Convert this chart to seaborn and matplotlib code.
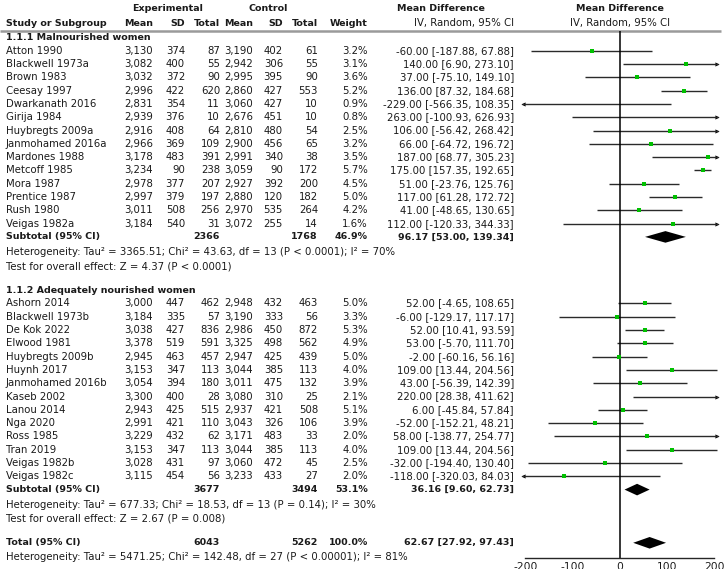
import matplotlib
matplotlib.use("Agg")
import numpy as np
import matplotlib.pyplot as plt
import seaborn as sns

# 1.1.1 Malnourished women
g1_name = ['Atton 1990', 'Blackwell 1973a', 'Brown 1983', 'Ceesay 1997', 'Dwarkanath 2016',
           'Girija 1984', 'Huybregts 2009a', 'Janmohamed 2016a', 'Mardones 1988', 'Metcoff 1985',
           'Mora 1987', 'Prentice 1987', 'Rush 1980', 'Veigas 1982a']
g1_e_mean = [3130, 3082, 3032, 2996, 2831, 2939, 2916, 2966, 3178, 3234, 2978, 2997, 3011, 3184]
g1_e_sd = [374, 400, 372, 422, 354, 376, 408, 369, 483, 90, 377, 379, 508, 540]
g1_e_n = [87, 55, 90, 620, 11, 10, 64, 109, 391, 238, 207, 197, 256, 31]
g1_c_mean = [3190, 2942, 2995, 2860, 3060, 2676, 2810, 2900, 2991, 3059, 2927, 2880, 2970, 3072]
g1_c_sd = [402, 306, 395, 427, 427, 451, 480, 456, 340, 90, 392, 120, 535, 255]
g1_c_n = [61, 55, 90, 553, 10, 10, 54, 65, 38, 172, 200, 182, 264, 14]
g1_weight = [3.2, 3.1, 3.6, 5.2, 0.9, 0.8, 2.5, 3.2, 3.5, 5.7, 4.5, 5.0, 4.2, 1.6]
g1_md = [-60.00, 140.00, 37.00, 136.00, -229.00, 263.00, 106.00, 66.00, 187.00, 175.00,
         51.00, 117.00, 41.00, 112.00]
g1_lo = [-187.88, 6.90, -75.10, 87.32, -566.35, -100.93, -56.42, -64.72, 68.77, 157.35,
         -23.76, 61.28, -48.65, -120.33]
g1_hi = [67.88, 273.10, 149.10, 184.68, 108.35, 626.93, 268.42, 196.72, 305.23, 192.65,
         125.76, 172.72, 130.65, 344.33]
g1_sub = dict(e_n=2366, c_n=1768, w=46.9, md=96.17, lo=53.00, hi=139.34)
g1_het = 'Heterogeneity: Tau² = 3365.51; Chi² = 43.63, df = 13 (P < 0.0001); I² = 70%'
g1_test = 'Test for overall effect: Z = 4.37 (P < 0.0001)'

# 1.1.2 Adequately nourished women
g2_name = ['Ashorn 2014', 'Blackwell 1973b', 'De Kok 2022', 'Elwood 1981', 'Huybregts 2009b',
           'Huynh 2017', 'Janmohamed 2016b', 'Kaseb 2002', 'Lanou 2014', 'Nga 2020',
           'Ross 1985', 'Tran 2019', 'Veigas 1982b', 'Veigas 1982c']
g2_e_mean = [3000, 3184, 3038, 3378, 2945, 3153, 3054, 3300, 2943, 2991, 3229, 3153, 3028, 3115]
g2_e_sd = [447, 335, 427, 519, 463, 347, 394, 400, 425, 421, 432, 347, 431, 454]
g2_e_n = [462, 57, 836, 591, 457, 113, 180, 28, 515, 110, 62, 113, 97, 56]
g2_c_mean = [2948, 3190, 2986, 3325, 2947, 3044, 3011, 3080, 2937, 3043, 3171, 3044, 3060, 3233]
g2_c_sd = [432, 333, 450, 498, 425, 385, 475, 310, 421, 326, 483, 385, 472, 433]
g2_c_n = [463, 56, 872, 562, 439, 113, 132, 25, 508, 106, 33, 113, 45, 27]
g2_weight = [5.0, 3.3, 5.3, 4.9, 5.0, 4.0, 3.9, 2.1, 5.1, 3.9, 2.0, 4.0, 2.5, 2.0]
g2_md = [52.00, -6.00, 52.00, 53.00, -2.00, 109.00, 43.00, 220.00, 6.00, -52.00,
         58.00, 109.00, -32.00, -118.00]
g2_lo = [-4.65, -129.17, 10.41, -5.70, -60.16, 13.44, -56.39, 28.38, -45.84, -152.21,
         -138.77, 13.44, -194.40, -320.03]
g2_hi = [108.65, 117.17, 93.59, 111.70, 56.16, 204.56, 142.39, 411.62, 57.84, 48.21,
         254.77, 204.56, 130.40, 84.03]
g2_sub = dict(e_n=3677, c_n=3494, w=53.1, md=36.16, lo=9.60, hi=62.73)
g2_het = 'Heterogeneity: Tau² = 677.33; Chi² = 18.53, df = 13 (P = 0.14); I² = 30%'
g2_test = 'Test for overall effect: Z = 2.67 (P = 0.008)'

total = dict(e_n=6043, c_n=5262, w=100.0, md=62.67, lo=27.92, hi=97.43)
total_het = 'Heterogeneity: Tau² = 5471.25; Chi² = 142.48, df = 27 (P < 0.00001); I² = 81%'

x_ticks = [-200, -100, 0, 100, 200]

# ---- layout (pixels) ----
W, H = 724, 569
FS = 7.3
FSB = 6.8
TXT = '#1a1a1a'


def row_y(r):
    return 50.7 + 13.3 * r


col_x = dict(e_mean=153, e_sd=185, e_n=220, c_mean=253, c_sd=283, c_n=318, w=368, md=514)
name_x = 6

sns.set_style('white')
plt.rcParams['font.family'] = ['DejaVu Sans']

fig = plt.figure(figsize=(W / 100, H / 100), dpi=100)
tab = fig.add_axes([0, 0, 1, 1])
tab.set_xlim(0, W)
tab.set_ylim(H, 0)
tab.axis('off')

# forest axes: 0 at px 620, 0.4725 px per unit
scale = 0.4725
xmin, xmax = -210, 208.5
left_px = 620 + xmin * scale
fx = fig.add_axes([left_px / W, 0, (xmax - xmin) * scale / W, 1])
fx.set_xlim(xmin, xmax)
fx.set_ylim(H, 0)
fx.patch.set_alpha(0)


def t(x, y, s, ha='left', bold=False):
    tab.text(x, y, s, ha=ha, va='center', fontsize=FSB if bold else FS, color=TXT,
             fontweight='bold' if bold else 'normal')


# headers
t(168, 8.5, 'Experimental', 'center', True)
t(268, 8.5, 'Control', 'center', True)
t(441, 8.5, 'Mean Difference', 'center', True)
t(620, 8.5, 'Mean Difference', 'center', True)
hy = 23.3
t(name_x, hy, 'Study or Subgroup', bold=True)
for key, lab in [('e_mean', 'Mean'), ('e_sd', 'SD'), ('e_n', 'Total'), ('c_mean', 'Mean'),
                 ('c_sd', 'SD'), ('c_n', 'Total'), ('w', 'Weight')]:
    t(col_x[key], hy, lab, 'right', True)
t(col_x['md'], hy, 'IV, Random, 95% CI', 'right')
t(620, hy, 'IV, Random, 95% CI', 'center')
tab.hlines(30.5, 0, 721, color='#9a9a9a', lw=1.8)


def ci_text(md, lo, hi):
    return f'{md:.2f} [{lo:.2f}, {hi:.2f}]'


def diamond(d, y, h=5.8):
    fx.fill([d['lo'], d['md'], d['hi'], d['md']], [y, y - h, y, y + h], color='black', lw=0)


def draw_group(title, r0, names, em, esd, en, cm, csd, cn, w, md, lo, hi, sub, het, test):
    t(name_x, row_y(r0 - 1), title, bold=True)
    ys = [row_y(r0 + i) for i in range(len(names))]
    for i, y in enumerate(ys):
        t(name_x, y, names[i])
        t(col_x['e_mean'], y, f'{em[i]:,}', 'right')
        t(col_x['e_sd'], y, f'{esd[i]}', 'right')
        t(col_x['e_n'], y, f'{en[i]}', 'right')
        t(col_x['c_mean'], y, f'{cm[i]:,}', 'right')
        t(col_x['c_sd'], y, f'{csd[i]}', 'right')
        t(col_x['c_n'], y, f'{cn[i]}', 'right')
        t(col_x['w'], y, f'{w[i]:.1f}%', 'right')
        t(col_x['md'], y, ci_text(md[i], lo[i], hi[i]), 'right')
    # CI lines, clipped at the plot edge with arrows
    lim = 207.5
    lo_c = np.clip(lo, -lim, lim)
    hi_c = np.clip(hi, -lim, lim)
    fx.hlines(ys, lo_c, hi_c, color='#2a2a2a', lw=1.0)
    ys_a = np.array(ys)
    over = np.array(hi) > lim
    under = np.array(lo) < -lim
    fx.scatter(np.full(over.sum(), lim - 1.5), ys_a[over], marker='>', s=9, color='black',
               linewidths=0)
    fx.scatter(np.full(under.sum(), -lim + 1.5), ys_a[under], marker='<', s=9, color='black',
               linewidths=0)
    sns.scatterplot(x=md, y=ys, marker='s', s=7, color='#00c000', linewidth=0,
                    ax=fx, legend=False, zorder=3)
    # subtotal
    ys_sub = row_y(r0 + len(names))
    t(name_x, ys_sub, 'Subtotal (95% CI)', bold=True)
    t(col_x['e_n'], ys_sub, f"{sub['e_n']}", 'right', True)
    t(col_x['c_n'], ys_sub, f"{sub['c_n']}", 'right', True)
    t(col_x['w'], ys_sub, f"{sub['w']:.1f}%", 'right', True)
    t(col_x['md'], ys_sub, ci_text(sub['md'], sub['lo'], sub['hi']), 'right', True)
    diamond(sub, ys_sub)
    t(name_x, row_y(r0 + len(names) + 1.15), het)
    t(name_x, row_y(r0 + len(names) + 2.2), test)


draw_group('1.1.1 Malnourished women', 0, g1_name, g1_e_mean, g1_e_sd, g1_e_n, g1_c_mean,
           g1_c_sd, g1_c_n, g1_weight, g1_md, g1_lo, g1_hi, g1_sub, g1_het, g1_test)
draw_group('1.1.2 Adequately nourished women', 19, g2_name, g2_e_mean, g2_e_sd, g2_e_n,
           g2_c_mean, g2_c_sd, g2_c_n, g2_weight, g2_md, g2_lo, g2_hi, g2_sub, g2_het, g2_test)

yt = row_y(37)
t(name_x, yt, 'Total (95% CI)', bold=True)
t(col_x['e_n'], yt, f"{total['e_n']}", 'right', True)
t(col_x['c_n'], yt, f"{total['c_n']}", 'right', True)
t(col_x['w'], yt, f"{total['w']:.1f}%", 'right', True)
t(col_x['md'], yt, ci_text(total['md'], total['lo'], total['hi']), 'right', True)
diamond(total, yt)
t(name_x, row_y(38.1), total_het)

# zero line and axis (tick labels are cut by the bottom edge, as in the source)
axis_y = 557.5
fx.vlines(0, 30.5, axis_y, color='black', lw=1.1)
for s in ['top', 'right', 'left']:
    fx.spines[s].set_visible(False)
fx.spines['bottom'].set_position(('data', axis_y))
fx.spines['bottom'].set_bounds(-200, 200)
fx.spines['bottom'].set_linewidth(1.0)
fx.set_yticks([])
fx.set_xticks(x_ticks)
fx.set_xticklabels([str(v) for v in x_ticks])
fx.tick_params(axis='x', direction='inout', length=7, width=1.0, pad=0, labelsize=FS + 0.4,
               colors=TXT)

fig.savefig('out.png', dpi=100)
